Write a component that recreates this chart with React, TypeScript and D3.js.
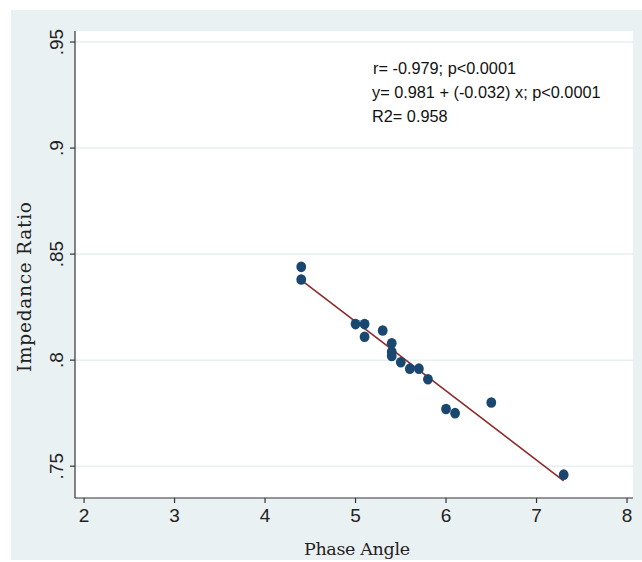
import React from 'react';
import * as d3 from 'd3';

// values
const phaseAngle = [4.4, 4.4, 5.0, 5.1, 5.1, 5.3, 5.4, 5.4, 5.4, 5.5, 5.6, 5.7, 5.8, 6.0, 6.1, 6.5, 7.3];
const impedanceRatio = [0.844, 0.838, 0.817, 0.817, 0.811, 0.814, 0.808, 0.804, 0.802, 0.799, 0.796, 0.796, 0.791, 0.777, 0.775, 0.780, 0.746];
const xTicks = [2, 3, 4, 5, 6, 7, 8];
const yTicks = [0.75, 0.8, 0.85, 0.9, 0.95];
const yTickLabels = ['.75', '.8', '.85', '.9', '.95'];
const notes = ['r= -0.979; p<0.0001', 'y= 0.981 + (-0.032) x; p<0.0001', 'R2= 0.958'];

const W = 642;
const H = 562;
const plot = { left: 75, right: 633, top: 31, bottom: 498 };

const App = () => {
  const x = d3.scaleLinear().domain([1.9, 8.066]).range([plot.left, plot.right]);
  const y = d3.scaleLinear().domain([0.735, 0.9552]).range([plot.bottom, plot.top]);

  // least squares fit through the points
  const mx = d3.mean(phaseAngle) as number;
  const my = d3.mean(impedanceRatio) as number;
  let sxy = 0;
  let sxx = 0;
  phaseAngle.forEach((v, i) => {
    sxy += (v - mx) * (impedanceRatio[i] - my);
    sxx += (v - mx) * (v - mx);
  });
  const slope = sxy / sxx;
  const icpt = my - slope * mx;
  const [x0, x1] = d3.extent(phaseAngle) as [number, number];
  const fitLine = d3.line<number>().x((d) => x(d)).y((d) => y(icpt + slope * d));

  const serif = '"DejaVu Serif", "Liberation Serif", serif';
  const sans = '"Liberation Sans", Arial, sans-serif';
  const narrow = '"Liberation Sans Narrow", "Arial Narrow", "Liberation Sans", sans-serif';

  return (
    <svg width={W} height={H} style={{ position: 'absolute', left: 0, top: 0 }}>
      <rect x={0} y={0} width={W} height={H} fill="#ffffff" />
      <rect x={11} y={10} width={W - 11} height={550} fill="#eaf1f3" />
      <rect x={plot.left} y={plot.top} width={plot.right - plot.left} height={plot.bottom - plot.top} fill="#ffffff" />

      {/* grid lines */}
      {yTicks.map((t) => (
        <line key={'g' + t} x1={plot.left} x2={plot.right} y1={y(t)} y2={y(t)} stroke="#e6eff1" strokeWidth={1.5} />
      ))}

      {/* axes */}
      <line x1={plot.left} x2={plot.left} y1={plot.top} y2={plot.bottom} stroke="#333" strokeWidth={1.2} />
      <line x1={plot.left} x2={plot.right} y1={plot.bottom} y2={plot.bottom} stroke="#333" strokeWidth={1.2} />

      {yTicks.map((t, i) => (
        <g key={'y' + t}>
          <line x1={plot.left - 5} x2={plot.left} y1={y(t)} y2={y(t)} stroke="#333" strokeWidth={1.2} />
          <text
            transform={`translate(${63},${y(t)}) rotate(-90)`}
            textAnchor="middle"
            fontFamily={narrow}
            fontSize={19}
            fill="#222"
          >
            {yTickLabels[i]}
          </text>
        </g>
      ))}

      {xTicks.map((t) => (
        <g key={'x' + t}>
          <line x1={x(t)} x2={x(t)} y1={plot.bottom} y2={plot.bottom + 5} stroke="#333" strokeWidth={1.2} />
          <text x={x(t)} y={522} textAnchor="middle" fontFamily={narrow} fontSize={19} fill="#222">
            {t}
          </text>
        </g>
      ))}

      <text x={357} y={555} textAnchor="middle" fontFamily={serif} fontSize={17.5} textLength={106} fill="#222">
        Phase Angle
      </text>
      <text
        transform={`translate(${31},${287}) rotate(-90)`}
        textAnchor="middle"
        fontFamily={serif}
        fontSize={18.5}
        textLength={170}
        fill="#222"
      >
        Impedance Ratio
      </text>

      {/* fitted line */}
      <path d={fitLine([x0, x1]) as string} fill="none" stroke="#8b2b2b" strokeWidth={1.6} />

      {/* points */}
      {phaseAngle.map((v, i) => (
        <ellipse key={'p' + i} cx={x(v)} cy={y(impedanceRatio[i])} rx={4.9} ry={5.3} fill="#1a4770" />
      ))}

      {notes.map((n, i) => (
        <text key={'n' + i} x={i === 0 ? 373 : 372} y={74 + i * 24} fontFamily={sans} fontSize={16.3} fill="#111">
          {n}
        </text>
      ))}
    </svg>
  );
};

export default App;
